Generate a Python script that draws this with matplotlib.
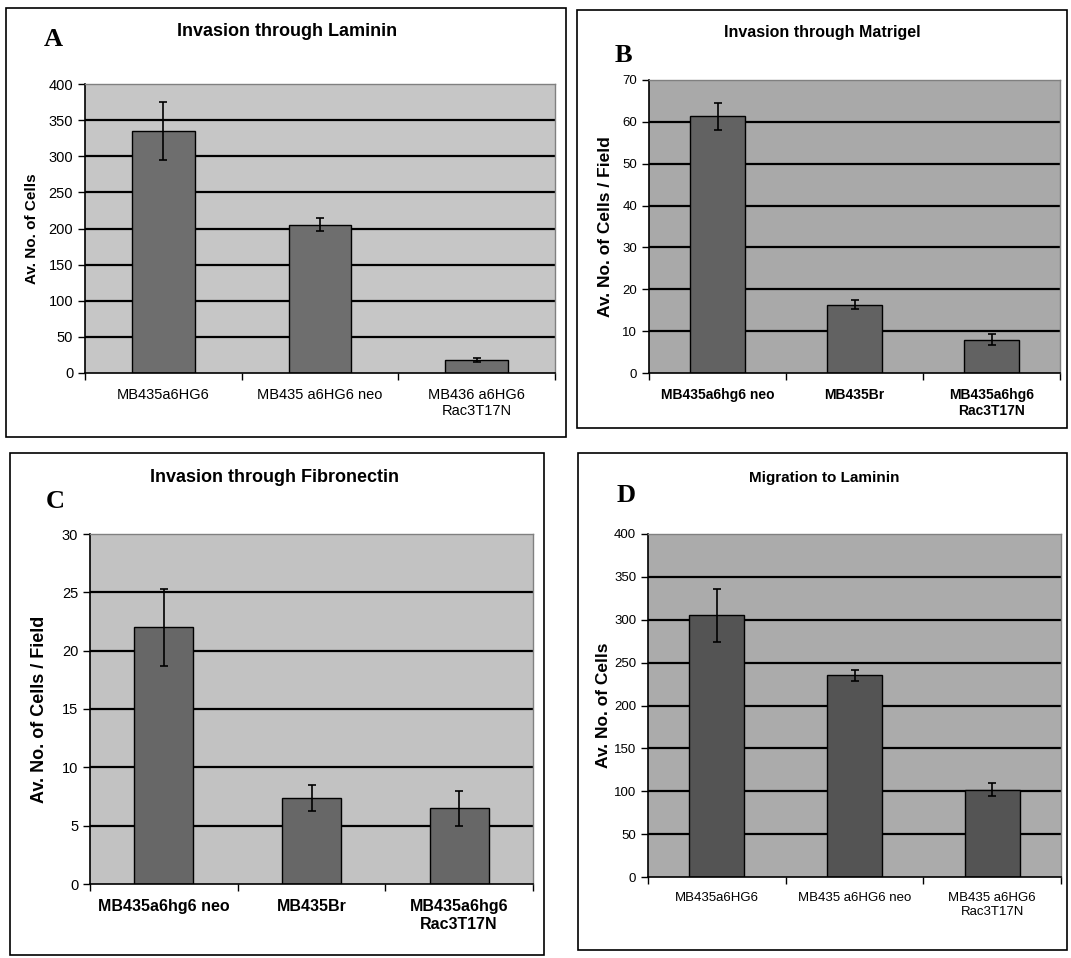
import matplotlib
matplotlib.use("Agg")
import matplotlib.pyplot as plt
from matplotlib.patches import Rectangle

W, H = 1071, 958

# panel A - Invasion through Laminin
a_labels = ["MB435a6HG6", "MB435 a6HG6 neo", "MB436 a6HG6\nRac3T17N"]
a_vals = [335, 205, 18]
a_err = [40, 9, 3]

# panel B - Invasion through Matrigel
b_labels = ["MB435a6hg6 neo", "MB435Br", "MB435a6hg6\nRac3T17N"]
b_vals = [61.3, 16.3, 8.0]
b_err = [3.3, 1.1, 1.4]

# panel C - Invasion through Fibronectin
c_labels = ["MB435a6hg6 neo", "MB435Br", "MB435a6hg6\nRac3T17N"]
c_vals = [22.0, 7.4, 6.5]
c_err = [3.3, 1.1, 1.5]

# panel D - Migration to Laminin
d_labels = ["MB435a6HG6", "MB435 a6HG6 neo", "MB435 a6HG6\nRac3T17N"]
d_vals = [305, 235, 102]
d_err = [31, 6, 8]

plt.rcParams['font.family'] = ['Liberation Sans', 'DejaVu Sans']

fig = plt.figure(figsize=(W / 100, H / 100), dpi=100)


def px_axes(l, t, r, b):
    return fig.add_axes([l / W, 1 - b / H, (r - l) / W, (b - t) / H])


def box(l, t, r, b):
    fig.add_artist(Rectangle((l / W, 1 - b / H), (r - l) / W, (b - t) / H,
                             transform=fig.transFigure, fill=False,
                             edgecolor="black", linewidth=1.2))


def ftext(x, y, s, **kw):
    fig.text(x / W, 1 - y / H, s, ha="center", va="center", **kw)


def panel(ax, labels, vals, err, ymax, step, ylabel, bg, barc,
          xfont, bold_x, yfont, ytick_font, ylab_x):
    x = range(len(vals))
    ax.set_facecolor(bg)
    for v in range(step, ymax, step):
        ax.axhline(v, color="black", linewidth=1.6, zorder=1)
    ax.bar(x, vals, width=0.4, color=barc, edgecolor="black",
           linewidth=1.0, zorder=2)
    ax.errorbar(x, vals, yerr=err, fmt="none", ecolor="black",
                elinewidth=1.2, capsize=2.8, capthick=1.2, zorder=3)
    ax.set_xlim(-0.5, len(vals) - 0.5)
    ax.set_ylim(0, ymax)
    ax.set_yticks(range(0, ymax + 1, step))
    ax.set_xticks(list(x))
    ax.set_xticklabels(labels, fontsize=xfont,
                       fontweight="bold" if bold_x else "normal")
    ax.set_xticks([i - 0.5 for i in range(len(vals) + 1)], minor=True)
    ax.tick_params(axis="x", which="major", length=0, pad=11)
    ax.tick_params(axis="x", which="minor", length=5, width=1, direction="out")
    ax.tick_params(axis="y", length=5, width=1, labelsize=ytick_font)
    ax.set_ylabel(ylabel, fontsize=yfont, fontweight="bold", va="center")
    # label centre given in pixels
    bb = ax.get_position()
    ax.yaxis.set_label_coords((ylab_x / W - bb.x0) / bb.width, 0.5)
    for s in ["left", "bottom"]:
        ax.spines[s].set_linewidth(1.2)
    for s in ["top", "right"]:
        ax.spines[s].set_color("#808080")
        ax.spines[s].set_linewidth(1.0)


# boxes around each panel
box(6, 8, 566, 437)
box(577, 10, 1067, 428)
box(10, 453, 544, 955)
box(578, 453, 1067, 950)

axA = px_axes(85, 84, 555, 373)
panel(axA, a_labels, a_vals, a_err, 400, 50, "Av. No. of Cells",
      "#c6c6c6", "#6e6e6e", 10.5, False, 11, 10.5, 32)
axB = px_axes(649, 80, 1060, 373)
panel(axB, b_labels, b_vals, b_err, 70, 10, "Av. No. of Cells / Field",
      "#a9a9a9", "#626262", 10, True, 12.5, 9.5, 605)
axC = px_axes(90, 534, 533, 884)
panel(axC, c_labels, c_vals, c_err, 30, 5, "Av. No. of Cells / Field",
      "#c2c2c2", "#676767", 11.5, True, 13, 10.5, 39)
axD = px_axes(648, 534, 1061, 877)
panel(axD, d_labels, d_vals, d_err, 400, 50, "Av. No. of Cells",
      "#ababab", "#545454", 9.5, False, 12.5, 9.5, 604)

# titles
ftext(287, 31, "Invasion through Laminin", fontsize=13, fontweight="bold")
ftext(822, 32, "Invasion through Matrigel", fontsize=11.5, fontweight="bold")
ftext(275, 478, "Invasion through Fibronectin", fontsize=13, fontweight="bold")
ftext(824, 478, "Migration to Laminin", fontsize=11, fontweight="bold")

# panel letters
letter = dict(fontsize=19, fontweight="bold",
              family=["Liberation Serif", "DejaVu Serif"])
ftext(53, 40, "A", **letter)
ftext(623, 55, "B", **letter)
ftext(55, 501, "C", **letter)
ftext(626, 495, "D", **letter)

fig.savefig("out.png", dpi=100)
